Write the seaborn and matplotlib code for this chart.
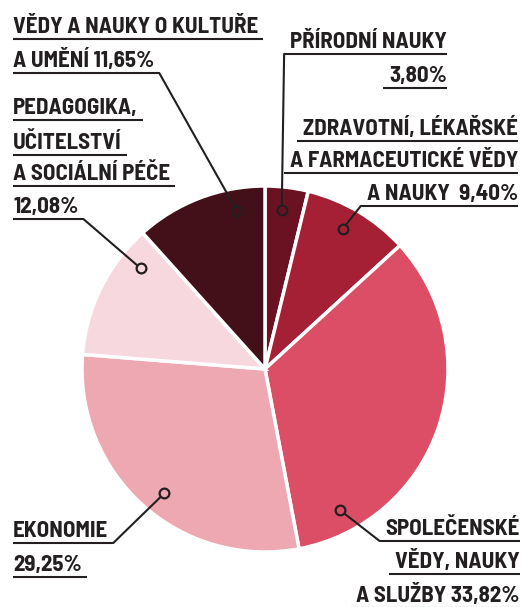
import numpy as np
import matplotlib
matplotlib.use("Agg")
import matplotlib.pyplot as plt
import seaborn as sns

# podíly absolventů podle skupin oborů (%)
obory = ["Přírodní nauky", "Zdravotní, lékařské a farmaceutické vědy a nauky",
         "Společenské vědy, nauky a služby", "Ekonomie",
         "Pedagogika, učitelství a sociální péče", "Vědy a nauky o kultuře a umění"]
podily = [3.80, 9.40, 33.82, 29.25, 12.08, 11.65]
barvy = ["#6b1222", "#a51f35", "#dc4e66", "#eea8b2", "#f7d8de", "#430f19"]

# texty popisků (řádky)
popisky = [
    ["PŘÍRODNÍ NAUKY", "3,80%"],
    ["ZDRAVOTNÍ, LÉKAŘSKÉ", "A FARMACEUTICKÉ VĚDY", "A NAUKY  9,40%"],
    ["SPOLEČENSKÉ", "VĚDY, NAUKY", "A SLUŽBY 33,82%"],
    ["EKONOMIE", "29,25%"],
    ["PEDAGOGIKA,", "UČITELSTVÍ", "A SOCIÁLNÍ PÉČE", "12,08%"],
    ["VĚDY A NAUKY O KULTUŘE", "A UMĚNÍ 11,65%"],
]

sns.set_theme(style="white")
plt.rcParams["font.family"] = ["Barlow Semi Condensed", "Roboto Condensed", "DejaVu Sans"]

W, H = 524, 607
fig = plt.figure(figsize=(W / 100, H / 100), dpi=100)
ax = fig.add_axes([0, 0, 1, 1])

def Y(y):
    return H - y

cx, cy, R = 265, 369, 183
ax.pie(podily, colors=barvy, startangle=90, counterclock=False,
       center=(cx, Y(cy)), radius=R,
       wedgeprops=dict(edgecolor="white", linewidth=2.5))
ax.set_xlim(0, W)
ax.set_ylim(0, H)
ax.set_aspect("equal")
ax.axis("off")

# rozvržení popisků: x, zarovnání, účaří řádků, který řádek vede k bodu, úhel bodu
rozlozeni = [
    dict(x=447, ha="right", base=[48, 82], spoj=0, uhel=84),
    dict(x=518, ha="right", base=[135, 167, 200], spoj=2, uhel=61),
    dict(x=520, ha="right", base=[535, 568, 602], spoj=0, uhel=-62),
    dict(x=13, ha="left", base=[537, 571], spoj=0, uhel=-129),
    dict(x=13, ha="left", base=[114, 149, 180, 213], spoj=3, uhel=141),
    dict(x=13, ha="left", base=[33, 67], spoj=1, uhel=100),
]

ink = "#231f20"
texty = []
for radky, lay in zip(popisky, rozlozeni):
    tt = []
    for r, b in zip(radky, lay["base"]):
        t = ax.text(lay["x"], Y(b), r, ha=lay["ha"], va="baseline",
                    fontsize=16.5, fontweight="bold", color=ink)
        tt.append(t)
    texty.append(tt)

fig.canvas.draw()
rend = fig.canvas.get_renderer()

r_bod = 160
for i, (tt, lay) in enumerate(zip(texty, rozlozeni)):
    ends = []
    for t, b in zip(tt, lay["base"]):
        bb = t.get_window_extent(rend)
        if lay["ha"] == "left":
            x0, x1 = lay["x"], bb.x1 + 5
        else:
            x0, x1 = bb.x0 - 6, lay["x"]
        yu = Y(b + 6)
        ax.plot([x0, x1], [yu, yu], color=ink, lw=1.5, solid_capstyle="butt")
        ends.append((x0, x1, yu))
    x0, x1, yu = ends[lay["spoj"]]
    sx = x1 if lay["ha"] == "left" else x0
    a = np.deg2rad(lay["uhel"])
    px, py = cx + r_bod * np.cos(a), Y(cy) + r_bod * np.sin(a)
    ax.plot([sx, px], [yu, py], color=ink, lw=1.5)
    ax.plot(px, py, "o", ms=7, mfc=barvy[i], mec=ink, mew=1.6)

fig.savefig("out.png", dpi=100)
